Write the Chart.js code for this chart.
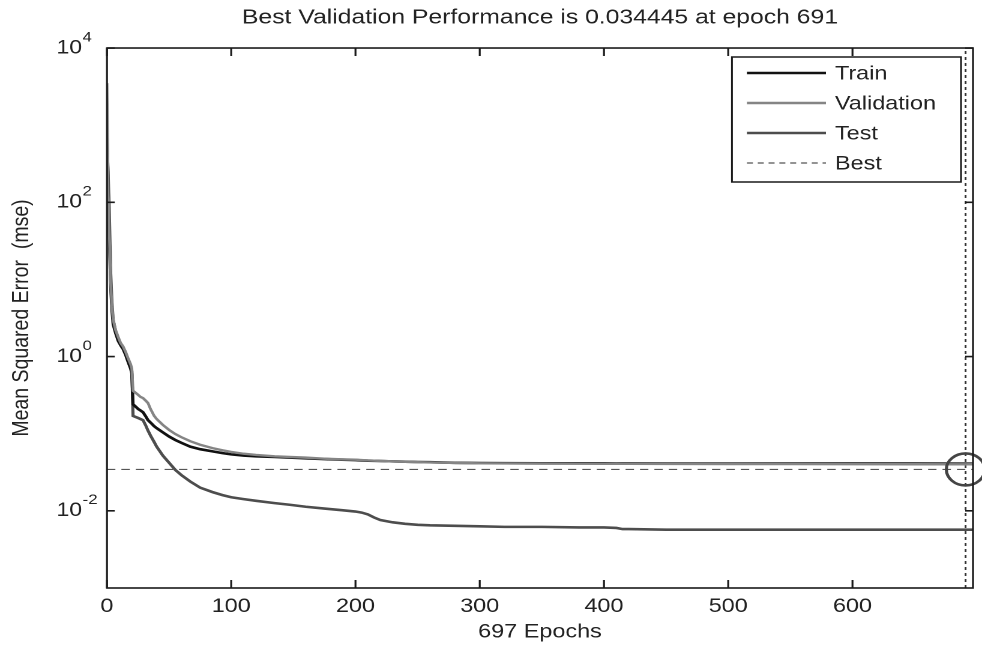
<!DOCTYPE html>
<html><head><meta charset="utf-8">
<script src="https://cdn.jsdelivr.net/npm/chart.js@4.4.1/dist/chart.umd.min.js"></script>
<style>
html,body{margin:0;padding:0;background:#fff;overflow:hidden;width:982px;height:648px;}
#wrap{position:absolute;left:0;top:0;width:818px;height:648px;transform:scaleX(1.20049);transform-origin:0 0;}
canvas{display:block;}
</style></head><body>
<div id="wrap"><canvas id="c" width="818" height="648"></canvas></div>
<script>
const epochs = [0,1,2,3,4,5,7,9,11,13,15,17,19,20,21,23,25,27,29,31,33,35,38,40,45,50,55,60,67,75,85,93,100,110,120,135,147,160,175,189,200,205,210,215,220,230,240,250,260,280,300,320,350,380,400,410,415,420,450,500,550,600,650,691,697];
const trainMSE = [850,150,30,8,4,2.6,2.0,1.6,1.4,1.25,1.05,0.85,0.7,0.6,0.24,0.225,0.21,0.2,0.19,0.17,0.15,0.14,0.125,0.118,0.104,0.092,0.083,0.076,0.068,0.063,0.059,0.056,0.054,0.052,0.051,0.050,0.049,0.048,0.047,0.046,0.0455,0.045,0.0447,0.0445,0.0443,0.0438,0.0434,0.043,0.0427,0.042,0.0417,0.0415,0.0414,0.0413,0.0413,0.0412,0.0412,0.0412,0.0411,0.0411,0.041,0.041,0.041,0.0409,0.0409];
const validationMSE = [3500,120,35,9,4.5,3.0,2.2,1.8,1.5,1.35,1.15,0.95,0.8,0.7,0.36,0.34,0.32,0.3,0.29,0.27,0.25,0.21,0.17,0.155,0.13,0.112,0.099,0.09,0.08,0.072,0.065,0.061,0.058,0.055,0.053,0.051,0.050,0.049,0.0475,0.0465,0.046,0.0455,0.045,0.0447,0.0444,0.0438,0.0433,0.0428,0.0424,0.0418,0.0414,0.0412,0.041,0.0409,0.0408,0.0408,0.0407,0.0407,0.0406,0.0405,0.0404,0.0403,0.0402,0.0401,0.0402];
const testMSE = [600,220,60,12,5,3,2.1,1.7,1.45,1.3,1.1,0.9,0.75,0.65,0.17,0.165,0.16,0.155,0.15,0.13,0.11,0.095,0.078,0.068,0.052,0.042,0.034,0.029,0.024,0.020,0.0175,0.016,0.015,0.0142,0.0135,0.0126,0.012,0.0113,0.0107,0.0102,0.0098,0.0095,0.009,0.0082,0.0076,0.0071,0.0068,0.0066,0.0065,0.0064,0.0063,0.0062,0.0062,0.0061,0.0061,0.006,0.0058,0.0058,0.0057,0.0057,0.0057,0.0057,0.0057,0.0057,0.0057];
const bestEpoch = 691;
const bestPerf = 0.034445;
const xMin = 0, xMax = 697;
const yMin = 1e-3, yMax = 1e4;
const xTickValues = [0,100,200,300,400,500,600];
const yTickValues = [1e-2, 1, 1e2, 1e4];
const yTickBase = '10';
const yTickExponents = ['-2','0','2','4'];

const FONT = "'Liberation Sans', Arial, 'DejaVu Sans', sans-serif";
const TXT = '#222';

const pts = arr => epochs.map((e,i)=>({x:e, y:arr[i]}));

const framePlugin = {
  id:'frame',
  afterDatasetsDraw(chart){
    const {ctx, chartArea:a, scales:{x,y}} = chart;
    ctx.save();
    ctx.strokeStyle = '#1a1a1a';
    ctx.lineWidth = 1.6;
    ctx.setLineDash([]);
    ctx.strokeRect(a.left, a.top, a.right-a.left, a.bottom-a.top);
    ctx.beginPath();
    xTickValues.forEach(v=>{
      const px = x.getPixelForValue(v);
      ctx.moveTo(px, a.bottom); ctx.lineTo(px, a.bottom-8);
      ctx.moveTo(px, a.top); ctx.lineTo(px, a.top+8);
    });
    yTickValues.forEach(v=>{
      const py = y.getPixelForValue(v);
      ctx.moveTo(a.left, py); ctx.lineTo(a.left+6.5, py);
      ctx.moveTo(a.right, py); ctx.lineTo(a.right-6.5, py);
    });
    ctx.stroke();
    // exponents of the y tick labels (10^n)
    ctx.fillStyle = TXT;
    ctx.font = "14px " + FONT;
    ctx.textAlign = 'left'; ctx.textBaseline = 'middle';
    yTickValues.forEach((v,i)=>{
      const py = y.getPixelForValue(v);
      ctx.fillText(yTickExponents[i], a.left - 20.3, py - 10.5);
    });
    ctx.restore();
  }
};

const legendPlugin = {
  id:'legendBox',
  afterDraw(chart){
    const ctx = chart.ctx;
    const L=609.7, T=57, R=800.5, B=182;
    ctx.save();
    ctx.fillStyle='#fff';
    ctx.fillRect(L,T,R-L,B-T);
    ctx.strokeStyle='#1a1a1a'; ctx.lineWidth=1.5; ctx.setLineDash([]);
    ctx.strokeRect(L,T,R-L,B-T);
    const items = chart.data.datasets.filter(d=>d.label);
    ctx.font = "19.5px " + FONT;
    ctx.textBaseline='middle'; ctx.textAlign='left';
    items.forEach((d,i)=>{
      const yy = T + 16 + i*30;
      ctx.strokeStyle = d.borderColor;
      ctx.lineWidth = d.borderWidth;
      ctx.setLineDash(d.legendDash || []);
      ctx.beginPath(); ctx.moveTo(622.2, yy); ctx.lineTo(688, yy); ctx.stroke();
      ctx.setLineDash([]);
      ctx.fillStyle = TXT;
      ctx.fillText(d.label, 695.5, yy+1);
    });
    ctx.restore();
  }
};

new Chart(document.getElementById('c'), {
  type:'line',
  data:{
    datasets:[
      {label:'Train', data:pts(trainMSE), borderColor:'#111111', borderWidth:2.6, pointRadius:0, tension:0, order:2},
      {label:'Validation', data:pts(validationMSE), borderColor:'#858585', borderWidth:2.4, pointRadius:0, tension:0, order:1},
      {label:'Test', data:pts(testMSE), borderColor:'#4d4d4d', borderWidth:2.6, pointRadius:0, tension:0, order:3},
      {label:'Best', data:[{x:xMin,y:bestPerf},{x:xMax,y:bestPerf}], borderColor:'#555555', borderWidth:1.2, borderDash:[7,5], legendDash:[5,4], pointRadius:0, order:5},
      {data:[{x:bestEpoch,y:yMin},{x:bestEpoch,y:yMax}], borderColor:'#333333', borderWidth:1.5, borderDash:[3,3], pointRadius:0, order:4},
      {data:[{x:bestEpoch,y:bestPerf}], showLine:false, pointRadius:16, pointBorderWidth:2.6, pointBorderColor:'#444444', pointBackgroundColor:'rgba(0,0,0,0)', clip:false, order:0}
    ]
  },
  options:{
    responsive:false,
    devicePixelRatio:2,
    animation:false,
    events:[],
    layout:{autoPadding:false, padding:{left:0,right:7.5,top:0,bottom:0}},
    scales:{
      x:{
        type:'linear', min:xMin, max:xMax,
        grid:{display:false, drawTicks:false},
        border:{display:false},
        afterBuildTicks:s=>{ s.ticks = xTickValues.map(v=>({value:v})); },
        afterFit:s=>{ s.height = 60; s.paddingLeft = 0; s.paddingRight = 0; },
        ticks:{padding:7, color:TXT, font:{family:FONT, size:19.5}, maxRotation:0, autoSkip:false, callback:v=>String(v)},
        title:{display:true, text:'697 Epochs', color:TXT, font:{family:FONT, size:19.5}, padding:{top:0,bottom:4.3}}
      },
      y:{
        type:'logarithmic', min:yMin, max:yMax,
        grid:{display:false, drawTicks:false},
        border:{display:false},
        afterBuildTicks:s=>{ s.ticks = yTickValues.map(v=>({value:v})); },
        afterFit:s=>{ s.width = 89.1; s.paddingTop = 0; s.paddingBottom = 0; },
        ticks:{padding:20.8, color:TXT, font:{family:FONT, size:19}, autoSkip:false, callback:()=>yTickBase},
        title:{display:true, text:'Mean Squared Error  (mse)', color:TXT, font:{family:FONT, size:19.5}, padding:{top:6.6,bottom:0}}
      }
    },
    plugins:{
      legend:{display:false},
      tooltip:{enabled:false},
      title:{display:true, fullSize:false, text:'Best Validation Performance is 0.034445 at epoch 691', color:TXT, font:{family:FONT, size:20.6, weight:'normal'}, padding:{top:5.6,bottom:17.7}}
    }
  },
  plugins:[framePlugin, legendPlugin]
});
</script>
</body></html>
